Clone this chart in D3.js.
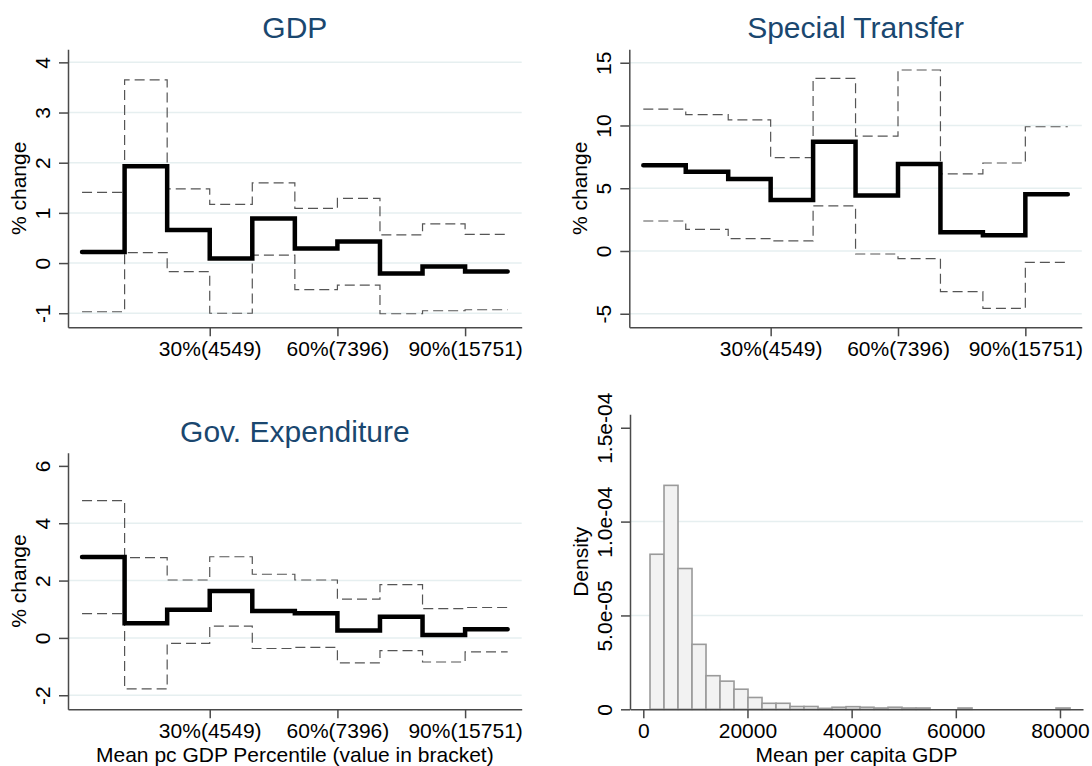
<!DOCTYPE html>
<html>
<head>
<meta charset="utf-8">
<script src="https://cdn.jsdelivr.net/npm/d3@7"></script>
<style>
  body { margin: 0; background: #fff; }
  svg text { font-family: "Liberation Sans", Arial, Helvetica, sans-serif; fill: #000; }
  .ptitle { fill: #1a476f; font-size: 30px; }
  .tick text, .lbl { font-size: 21px; }
  .axis path, .axis line { stroke: #4a4a4a; stroke-width: 1.5; }
  .grid { stroke: #e6eff0; stroke-width: 1.5; }
</style>
</head>
<body>
<div id="chart"></div>
<script>
// percentile bins (start of each decile bin) and x tick labels
const pctStart = [0, 10, 20, 30, 40, 50, 60, 70, 80, 90];
const pctEnd = 100;
const xTickVals = [30, 60, 90];
const xTickLabels = ["30%(4549)", "60%(7396)", "90%(15751)"];

// GDP
const gdpEst = [0.22, 1.93, 0.66, 0.09, 0.89, 0.29, 0.43, -0.21, -0.07, -0.17];
const gdpHi  = [1.41, 3.65, 1.48, 1.17, 1.60, 1.09, 1.29, 0.56, 0.78, 0.57];
const gdpLo  = [-0.97, 0.21, -0.17, -1.00, 0.16, -0.53, -0.44, -1.01, -0.95, -0.93];

// Special Transfer
const stEst = [6.83, 6.32, 5.74, 4.06, 8.71, 4.43, 6.93, 1.49, 1.25, 4.52];
const stHi  = [11.31, 10.86, 10.44, 7.44, 13.76, 9.16, 14.42, 6.14, 7.01, 9.90];
const stLo  = [2.39, 1.73, 0.98, 0.80, 3.59, -0.24, -0.61, -3.24, -4.57, -0.90];

// Gov. Expenditure
const geEst = [2.82, 0.51, 0.98, 1.64, 0.94, 0.86, 0.26, 0.74, 0.10, 0.30];
const geHi  = [4.79, 2.80, 2.02, 2.83, 2.22, 2.02, 1.35, 1.86, 1.02, 1.06];
const geLo  = [0.85, -1.78, -0.19, 0.41, -0.37, -0.33, -0.87, -0.44, -0.84, -0.49];

// histogram of mean per capita GDP (30 bins)
const histStart = 1290;
const histBinWidth = 2688;
const histDensity = [8.26e-5, 11.93e-5, 7.5e-5, 3.46e-5, 1.79e-5, 1.5e-5, 1.07e-5, 6.3e-6,
  3.2e-6, 3.2e-6, 1.5e-6, 1.5e-6, 0.5e-6, 1.1e-6, 1.4e-6, 1.1e-6, 0.7e-6, 1.1e-6,
  0.7e-6, 0.7e-6, 0, 0, 0.7e-6, 0, 0, 0, 0, 0, 0, 0.7e-6];
const histXTicks = [0, 20000, 40000, 60000, 80000];
const histYTicks = [0, 5e-5, 1e-4, 1.5e-4];
const histYLabels = ["0", "5.0e-05", "1.0e-04", "1.5e-04"];

const W = 1092, H = 766;
const svg = d3.select("#chart").append("svg")
  .attr("width", W).attr("height", H);
svg.append("rect").attr("width", W).attr("height", H).attr("fill", "#fff");

// rotate y tick labels like Stata (reading bottom to top)
function yAxisStyle(g, labels) {
  g.selectAll("text")
    .attr("x", 0).attr("y", -18).attr("dy", null)
    .attr("transform", "rotate(-90)")
    .style("text-anchor", "middle")
    .text((d, i) => labels ? labels[i] : String(d));
}

function drawPanel(box, yDomain, yTicks, gridTicks, est, hi, lo, title, yTitle, xTitle) {
  const x = d3.scaleLinear().domain([-3.3, 103.3]).range([box.left, box.right]);
  const y = d3.scaleLinear().domain(yDomain).range([box.bottom, box.top]);
  const g = svg.append("g");

  // gridlines
  g.selectAll(".grid").data(gridTicks).enter().append("line")
    .attr("class", "grid")
    .attr("x1", box.left).attr("x2", box.right)
    .attr("y1", d => y(d)).attr("y2", d => y(d));

  const pts = v => pctStart.map((p, i) => [p, v[i]]).concat([[pctEnd, v[v.length - 1]]]);
  const line = d3.line().x(d => x(d[0])).y(d => y(d[1])).curve(d3.curveStepAfter);

  // confidence bands (dashed) and point estimate (thick)
  [hi, lo].forEach(v => {
    g.append("path").datum(pts(v))
      .attr("d", line).attr("fill", "none")
      .attr("stroke", "#555").attr("stroke-width", 1.2)
      .attr("stroke-dasharray", "10,5");
  });
  g.append("path").datum(pts(est))
    .attr("d", line).attr("fill", "none")
    .attr("stroke", "#000").attr("stroke-width", 4.5)
    .attr("stroke-linecap", "round").attr("stroke-linejoin", "miter");

  // axes
  g.append("g").attr("class", "axis")
    .attr("transform", `translate(${box.left},0)`)
    .call(d3.axisLeft(y).tickValues(yTicks).tickSize(9).tickSizeOuter(0))
    .call(a => yAxisStyle(a));
  g.append("g").attr("class", "axis")
    .attr("transform", `translate(0,${box.bottom})`)
    .call(d3.axisBottom(x).tickValues(xTickVals).tickSize(9).tickSizeOuter(0)
      .tickFormat((d, i) => xTickLabels[i]))
    .call(a => a.selectAll("text").attr("y", 29).attr("dy", null));

  g.append("text").attr("class", "ptitle")
    .attr("x", (box.left + box.right) / 2).attr("y", box.titleY)
    .attr("text-anchor", "middle").text(title);
  g.append("text").attr("class", "lbl")
    .attr("transform", `translate(${box.left - 42},${(box.top + box.bottom) / 2}) rotate(-90)`)
    .attr("text-anchor", "middle").text(yTitle);
  if (xTitle) {
    g.append("text").attr("class", "lbl")
      .attr("x", (box.left + box.right) / 2).attr("y", 762)
      .attr("text-anchor", "middle").text(xTitle);
  }
}

drawPanel({left: 68, right: 521.7, top: 49.3, bottom: 327.3, titleY: 38},
  [-1.28, 4.26], [-1, 0, 1, 2, 3, 4], [-1, 0, 1, 2, 3, 4],
  gdpEst, gdpHi, gdpLo, "GDP", "% change");

drawPanel({left: 629.3, right: 1081.8, top: 49.3, bottom: 327.3, titleY: 38},
  [-6.08, 16.07], [-5, 0, 5, 10, 15], [-5, 0, 5, 10, 15],
  stEst, stHi, stLo, "Special Transfer", "% change");

drawPanel({left: 68, right: 521.7, top: 452.7, bottom: 709.3, titleY: 441.5},
  [-2.49, 6.46], [-2, 0, 2, 4, 6], [-2, 0, 2, 4],
  geEst, geHi, geLo, "Gov. Expenditure", "% change",
  "Mean pc GDP Percentile (value in bracket)");

// histogram panel
(function () {
  const box = {left: 630, right: 1083, top: 414.3, bottom: 709.3};
  const x = d3.scaleLinear().domain([-2553, 84420]).range([box.left, box.right]);
  const y = d3.scaleLinear().domain([0, 1.5716e-4]).range([box.bottom, box.top]);
  const g = svg.append("g");

  g.selectAll(".grid").data([5e-5, 1e-4]).enter().append("line")
    .attr("class", "grid")
    .attr("x1", box.left).attr("x2", box.right)
    .attr("y1", d => y(d)).attr("y2", d => y(d));

  const bars = histDensity.map((d, i) => ({i: i, d: d})).filter(b => b.d > 0);
  g.selectAll("rect.bar").data(bars).enter().append("rect")
    .attr("class", "bar")
    .attr("x", b => x(histStart + b.i * histBinWidth))
    .attr("y", b => y(b.d))
    .attr("width", b => x(histStart + (b.i + 1) * histBinWidth) - x(histStart + b.i * histBinWidth))
    .attr("height", b => y(0) - y(b.d))
    .attr("fill", "#f2f2f2").attr("stroke", "#9a9a9a").attr("stroke-width", 1.6);

  g.append("g").attr("class", "axis")
    .attr("transform", `translate(${box.left},0)`)
    .call(d3.axisLeft(y).tickValues(histYTicks).tickSize(9).tickSizeOuter(0))
    .call(a => yAxisStyle(a, histYLabels));
  g.append("g").attr("class", "axis")
    .attr("transform", `translate(0,${box.bottom})`)
    .call(d3.axisBottom(x).tickValues(histXTicks).tickSize(9).tickSizeOuter(0)
      .tickFormat(d3.format("d")))
    .call(a => a.selectAll("text").attr("y", 29).attr("dy", null));

  g.append("text").attr("class", "lbl")
    .attr("transform", `translate(${box.left - 42},${(box.top + box.bottom) / 2}) rotate(-90)`)
    .attr("text-anchor", "middle").text("Density");
  g.append("text").attr("class", "lbl")
    .attr("x", (box.left + box.right) / 2).attr("y", 762)
    .attr("text-anchor", "middle").text("Mean per capita GDP");
})();
</script>
</body>
</html>
